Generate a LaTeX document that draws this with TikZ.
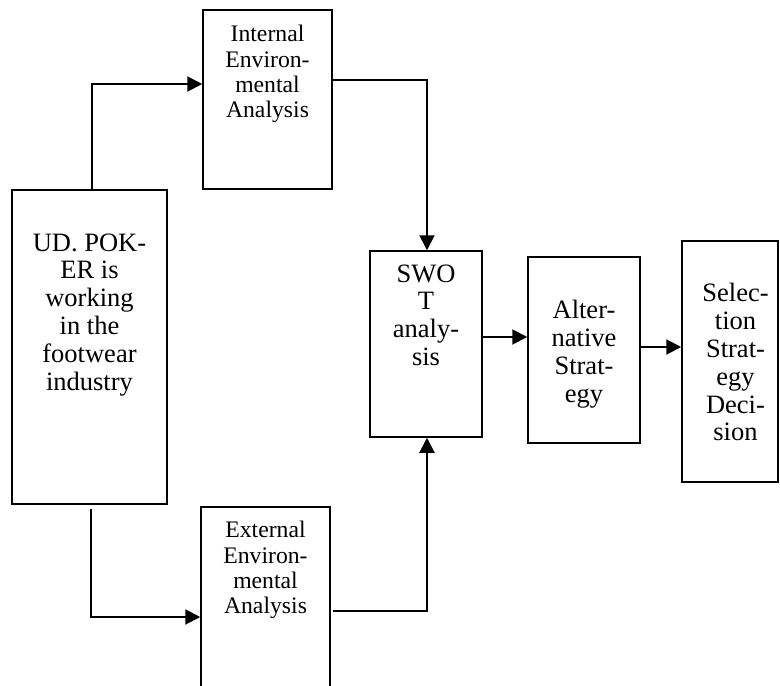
\documentclass[tikz,border=0pt]{standalone}
\usepackage{fontspec}
\setmainfont{Liberation Serif}
\usetikzlibrary{arrows.meta,positioning}
\tikzset{
  box/.style={draw=black,line width=1.5pt,fill=white,inner sep=0pt},
  txt/.style={align=center,inner sep=0pt,anchor=north,font=\fontsize{26.5}{27.8}\selectfont},
  txtsm/.style={txt,font=\fontsize{23.7}{25.2}\selectfont},
  ar/.style={-{Triangle[length=15pt,width=15pt]},line width=2pt},
}
\begin{document}
\begin{tikzpicture}[x=1pt,y=-1pt]
  \useasboundingbox (0,0) rectangle (780,686);
  \clip (0,0) rectangle (780,686);
  % boxes
  \node[box,minimum width=155pt,minimum height=314pt] (ud) at (89.5,347) {};
  \node[box,minimum width=129pt,minimum height=179pt] (int) at (267.5,99.5) {};
  \node[box,minimum width=129pt,minimum height=240pt] (ext) at (265.5,627) {};
  \node[box,minimum width=112pt,minimum height=186pt] (swot) at (426,344) {};
  \node[box,minimum width=112pt,minimum height=186pt] (alt) at (584,350) {};
  \node[box,minimum width=96pt,minimum height=241pt] (sel) at (730,361.5) {};
  % texts
  \node[txt,below=44pt of ud.north] (udtxt) {UD. POK-\\ER is\\working\\in the\\footwear\\industry};
  \node[txtsm,below=16pt of int.north] (inttxt) {Internal\\Environ-\\mental\\Analysis};
  \node[txtsm,below=15pt of ext.north] (exttxt) {External\\Environ-\\mental\\Analysis};
  \node[txt,below=14pt of swot.north] (swottxt) {SWO\\T\\analy-\\sis};
  \node[txt,below=44pt of alt.north] (alttxt) {Alter-\\native\\Strat-\\egy};
  \node[txt,below=43pt of sel.north,xshift=5.5pt] (seltxt) {Selec-\\tion\\Strat-\\egy\\Deci-\\sion};
  % connectors
  \draw[ar] ([xshift=2.5pt]ud.north) |- ([yshift=15.5pt]int.west);
  \draw[ar] ([shift={(1.5pt,-4pt)}]ud.south) |- ([yshift=10pt]ext.west);
  \draw[ar] ([yshift=19.5pt]int.east) -| ([xshift=1pt]swot.north);
  \draw[ar] ([shift={(2pt,16pt)}]ext.east) -| ([xshift=1pt]swot.south);
  \draw[ar] ([yshift=7pt]swot.east) -- ([yshift=13pt]alt.west);
  \draw[ar] ([yshift=3pt]alt.east) -- ([yshift=14.5pt]sel.west);
\end{tikzpicture}
\end{document}
